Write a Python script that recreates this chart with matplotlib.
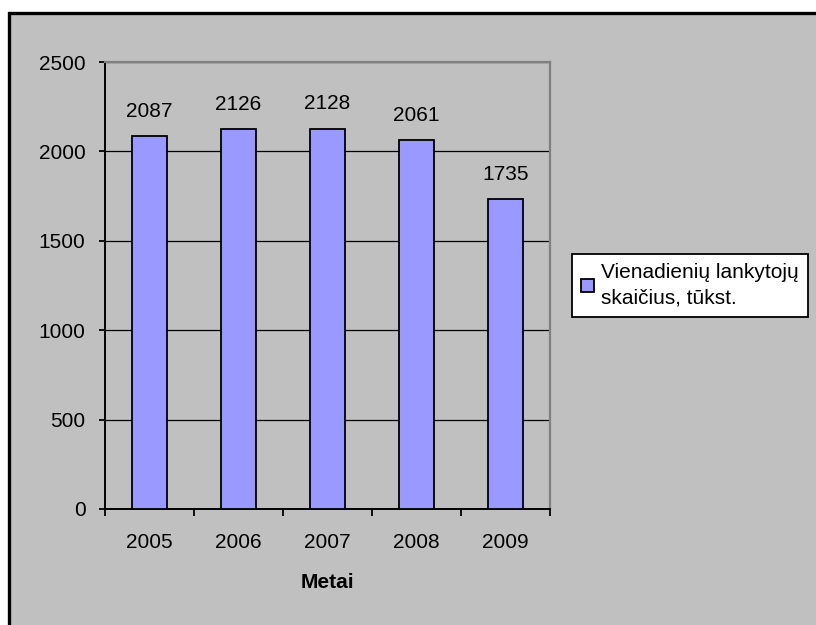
import matplotlib.pyplot as plt
from matplotlib.patches import Rectangle

years = ["2005", "2006", "2007", "2008", "2009"]
visitors = [2087, 2126, 2128, 2061, 1735]
series_name = "Vienadienių lankytojų\nskaičius, tūkst."

plt.rcParams["font.family"] = ["Liberation Sans", "DejaVu Sans"]
plt.rcParams["font.size"] = 15

fig = plt.figure(figsize=(8.16, 6.25), dpi=100, facecolor="white")

# grey chart area with a heavy black frame on the top and left
frame = Rectangle((9 / 816, -0.05), 1.2, 1 - 13 / 625 + 0.05,
                  transform=fig.transFigure, facecolor="#C0C0C0",
                  edgecolor="black", linewidth=2.4, zorder=-5)
fig.patches.append(frame)

ax = fig.add_axes([105 / 816, 1 - 509 / 625, 445 / 816, 447 / 625])
ax.set_facecolor("#C0C0C0")

x = list(range(len(years)))
bars = ax.bar(x, visitors, width=0.4, color="#9999FF", edgecolor="black",
              linewidth=1.3, zorder=3, label=series_name)
ax.bar_label(bars, labels=[str(v) for v in visitors], padding=11, fontsize=15)

ax.set_xlim(-0.5, 4.5)
ax.set_ylim(0, 2500)
ax.set_yticks(range(0, 2501, 500))
ax.yaxis.grid(True, color="black", linewidth=0.9, zorder=1)
ax.set_axisbelow(True)

ax.set_xticks(x)
ax.set_xticklabels(years)
ax.set_xticks([i - 0.5 for i in range(len(years) + 1)], minor=True)
ax.tick_params(axis="x", which="major", length=0, pad=17)
ax.tick_params(axis="x", which="minor", length=5, width=1.3, direction="out")
ax.tick_params(axis="y", length=4, width=1.3, pad=10)

for side in ("left", "bottom"):
    ax.spines[side].set_color("black")
    ax.spines[side].set_linewidth(1.4)
for side in ("top", "right"):
    ax.spines[side].set_color("#808080")
    ax.spines[side].set_linewidth(1.6)

fig.text(327.5 / 816, 1 - 583 / 625, "Metai", ha="center", va="center",
         fontsize=15, fontweight="bold")

leg = fig.legend(loc="center left", bbox_to_anchor=(572 / 816, 1 - 285.5 / 625),
                 fancybox=False, framealpha=1, edgecolor="black",
                 handlelength=0.6, handleheight=0.6, handletextpad=0.35,
                 borderpad=0.45, borderaxespad=0, fontsize=15)
leg.get_frame().set_linewidth(1.3)
for t in leg.get_texts():
    t.set_linespacing(1.45)

fig.savefig("out.png", dpi=100)
